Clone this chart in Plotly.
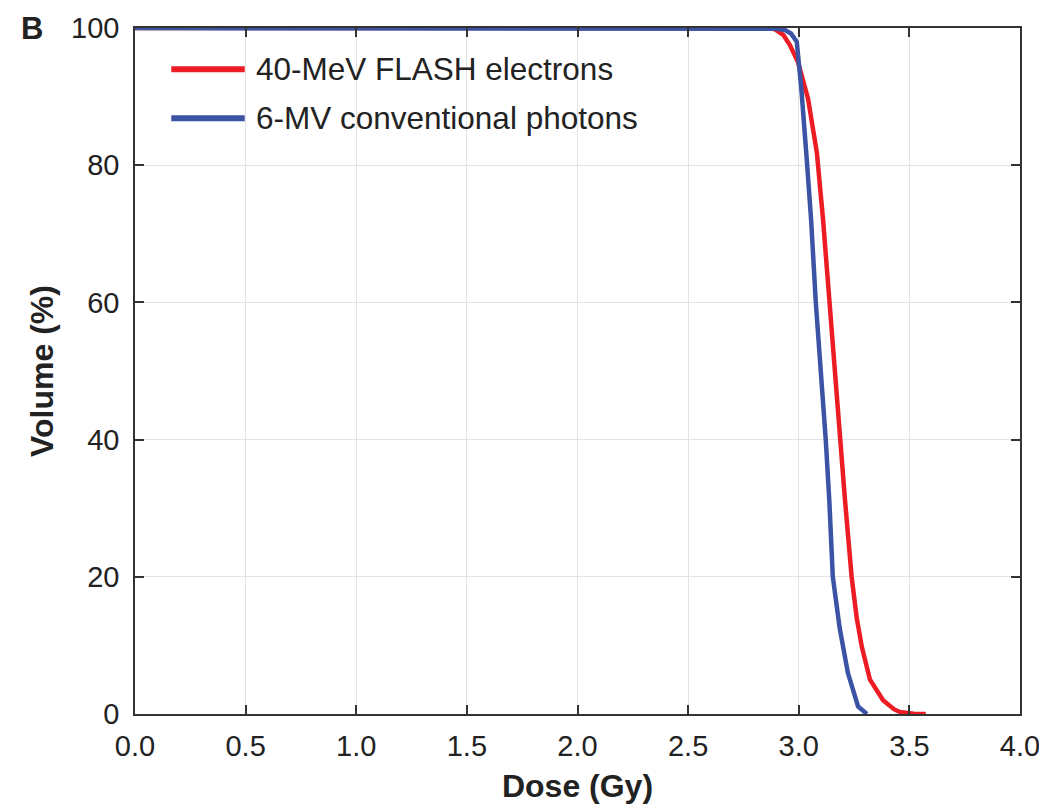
import plotly.graph_objects as go

# dose-volume histogram values
flash_name = "40-MeV FLASH electrons"
flash_dose = [0.0, 2.857, 2.893, 2.93, 2.96, 2.997, 3.042, 3.082, 3.11, 3.138, 3.162,
              3.186, 3.209, 3.239, 3.262, 3.285, 3.322, 3.381, 3.43, 3.457, 3.52, 3.574]
flash_vol = [100, 100, 99.8, 99.0, 97.5, 95.0, 89.7, 81.8, 72.0, 60.0, 50.0,
             40.0, 31.2, 20.0, 14.0, 9.8, 5.0, 2.0, 0.7, 0.3, 0.05, 0.0]

photon_name = "6-MV conventional photons"
photon_dose = [0.0, 2.857, 2.9, 2.938, 2.965, 2.991, 3.011, 3.034, 3.056, 3.077, 3.1,
               3.122, 3.138, 3.154, 3.185, 3.222, 3.268, 3.308]
photon_vol = [100, 100, 99.9, 99.7, 99.2, 98.0, 91.4, 81.8, 72.0, 60.0, 50.0,
              40.0, 31.2, 20.0, 12.5, 6.0, 1.1, 0.0]

x_ticks = [0.0, 0.5, 1.0, 1.5, 2.0, 2.5, 3.0, 3.5, 4.0]
y_ticks = [0, 20, 40, 60, 80, 100]

red = "#ED1C24"
blue = "#3A53A4"
font = "Liberation Sans, Arial, sans-serif"

fig = go.Figure()
fig.add_trace(go.Scatter(x=flash_dose, y=flash_vol, mode="lines", name=flash_name,
                         line=dict(color=red, width=4.5), showlegend=False))
fig.add_trace(go.Scatter(x=photon_dose, y=photon_vol, mode="lines", name=photon_name,
                         line=dict(color=blue, width=4.5), showlegend=False))

axis_common = dict(
    showline=True, linecolor="#333333", linewidth=1.5, mirror="ticks",
    ticks="inside", ticklen=9, tickwidth=1.5, tickcolor="#333333",
    showgrid=True, gridcolor="#e3e3e3", gridwidth=1, zeroline=False,
    tickfont=dict(family=font, size=29, color="#222222"),
    automargin=False, ticklabeloverflow="allow",
)
fig.update_xaxes(range=[0, 4], tickvals=x_ticks, ticktext=[f"{v:.1f}" for v in x_ticks],
                 title=dict(text="<b>Dose (Gy)</b>", font=dict(family=font, size=32, color="#222222"),
                            standoff=19),
                 ticklabelstandoff=5, **axis_common)
fig.update_yaxes(range=[0, 100], tickvals=y_ticks,
                 title=dict(text="<b>Volume (%)</b>", font=dict(family=font, size=32, color="#222222"),
                            standoff=8),
                 ticklabelstandoff=8, **axis_common)

# hand-drawn legend so the line samples are as long as in the original
legend_items = [(flash_name, red, 0.94), (photon_name, blue, 0.8685)]
for name, color, yp in legend_items:
    fig.add_shape(type="line", xref="paper", yref="paper", x0=0.041, x1=0.124, y0=yp, y1=yp,
                  line=dict(color=color, width=6))
    fig.add_annotation(text=name, xref="paper", yref="paper", x=0.134, y=yp, xanchor="left",
                       yanchor="middle", showarrow=False,
                       font=dict(family=font, size=31.5, color="#222222"))

fig.add_annotation(text="<b>B</b>", xref="paper", yref="paper", x=-0.131, y=1.0,
                   xanchor="left", yanchor="middle", showarrow=False,
                   font=dict(family=font, size=31, color="#222222"))

# the page body adds an 8px offset, so the figure is sized to fit inside the window
fig.update_layout(
    width=1031, height=796,
    margin=dict(l=127, r=19, t=20, b=90, autoexpand=False),
    plot_bgcolor="white", paper_bgcolor="white",
)

fig.write_html("out.html")
